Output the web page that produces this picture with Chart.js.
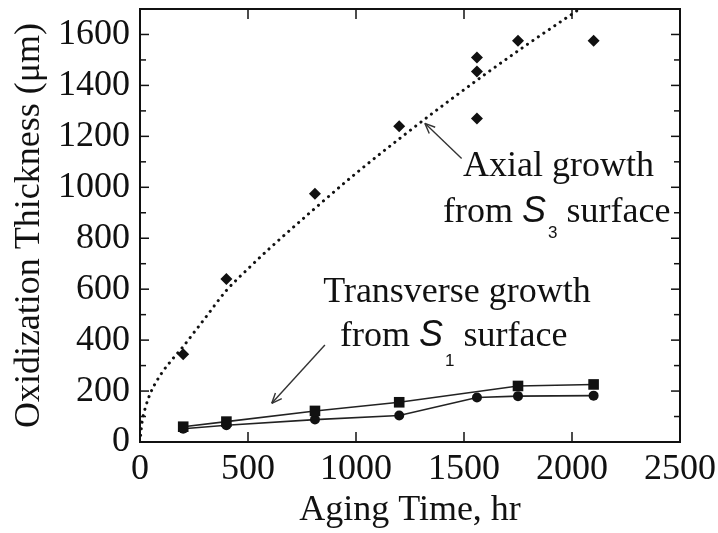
<!DOCTYPE html>
<html>
<head>
<meta charset="utf-8">
<script src="https://cdn.jsdelivr.net/npm/chart.js@4.4.1/dist/chart.umd.min.js"></script>
<style>
  html, body { margin: 0; padding: 0; background: #fff; }
  .chart-container { width: 718px; height: 533px; position: relative; }
</style>
</head>
<body>
<div class="chart-container"><canvas id="chart"></canvas></div>
<script>
// aging time (hr) vs oxide thickness (um)
const axialTime = [200, 400, 810, 1200, 1560, 1560, 1560, 1750, 2100]
const axialThickness = [345, 640, 975, 1240, 1270, 1455, 1510, 1575, 1575]

// fitted axial growth curve
const fitTime = [0, 5, 10, 25, 50, 100, 150, 200, 250, 300, 400, 500, 600, 800, 1000, 1200, 1400, 1600, 1800, 2035]
const fitThickness = [0, 45, 80, 135, 195, 270, 325, 375, 430, 485, 595, 680, 760, 910, 1055, 1190, 1320, 1445, 1565, 1700]

// transverse growth, square markers
const transTimeA = [200, 400, 810, 1200, 1750, 2100]
const transThickA = [60, 80, 122, 156, 220, 226]
// transverse growth, circle markers
const transTimeB = [200, 400, 810, 1200, 1560, 1750, 2100]
const transThickB = [52, 66, 88, 104, 175, 180, 182]

const xTicks = [0, 500, 1000, 1500, 2000, 2500]
const yTicks = [0, 200, 400, 600, 800, 1000, 1200, 1400, 1600]
const yMinorTicks = [100, 300, 500, 700, 900, 1100, 1300, 1500]

const serif = "'Liberation Serif', 'Times New Roman', serif"
const sans = "'Liberation Sans', Arial, sans-serif"
const ink = "#111"

const pts = (xs, ys) => xs.map((x, i) => ({ x: x, y: ys[i] }))

// text labels with an S-subscript, anchored in data units
const notes = [
  { t: 1495, v: 1044, parts: [["Axial growth"]] },
  { t: 1403, v: 865, parts: [["from "], ["S", "s"], ["3", "sub"], [" surface"]], subDrop: 16 },
  { t: 848, v: 551, parts: [["Transverse growth"]] },
  { t: 926, v: 375, parts: [["from "], ["S", "s"], ["1", "sub"], [" surface"]], subDrop: 20 }
]
const arrows = [
  { from: [1489, 1113], to: [1319, 1251] },
  { from: [856, 381], to: [610, 152] }
]

const framePlugin = {
  id: "frame",
  afterDatasetsDraw(chart) {
    const ctx = chart.ctx
    const a = chart.chartArea
    const x = chart.scales.x
    const y = chart.scales.y
    const seg = (x0, y0, x1, y1) => { ctx.beginPath(); ctx.moveTo(x0, y0); ctx.lineTo(x1, y1); ctx.stroke() }
    ctx.save()
    ctx.strokeStyle = ink
    ctx.lineWidth = 2
    ctx.strokeRect(a.left, a.top, a.right - a.left, a.bottom - a.top)
    ctx.lineWidth = 1.5
    yTicks.forEach(v => {
      const py = y.getPixelForValue(v)
      seg(a.left, py, a.left + 9, py)
      seg(a.right, py, a.right - 9, py)
    })
    yMinorTicks.forEach(v => {
      const py = y.getPixelForValue(v)
      seg(a.left, py, a.left + 6, py)
      seg(a.right, py, a.right - 6, py)
    })
    xTicks.slice(1, -1).forEach(v => {
      const px = x.getPixelForValue(v)
      seg(px, a.bottom, px, a.bottom - 10)
      seg(px, a.top, px, a.top + 10)
    })

    // arrows
    ctx.strokeStyle = "#333"
    ctx.lineWidth = 1.4
    arrows.forEach(ar => {
      const x0 = x.getPixelForValue(ar.from[0]), y0 = y.getPixelForValue(ar.from[1])
      const x1 = x.getPixelForValue(ar.to[0]), y1 = y.getPixelForValue(ar.to[1])
      seg(x0, y0, x1, y1)
      const ang = Math.atan2(y0 - y1, x0 - x1)
      const len = 11
      seg(x1, y1, x1 + len * Math.cos(ang + 0.4), y1 + len * Math.sin(ang + 0.4))
      seg(x1, y1, x1 + len * Math.cos(ang - 0.4), y1 + len * Math.sin(ang - 0.4))
    })

    // labels
    ctx.fillStyle = ink
    ctx.textBaseline = "alphabetic"
    ctx.textAlign = "left"
    notes.forEach(n => {
      let px = x.getPixelForValue(n.t)
      const py = y.getPixelForValue(n.v)
      n.parts.forEach(p => {
        const kind = p[1]
        if (kind === "s") ctx.font = "italic 36px " + sans
        else if (kind === "sub") ctx.font = "17px " + sans
        else ctx.font = "36px " + serif
        const dy = kind === "sub" ? n.subDrop : 0
        ctx.fillText(p[0], px, py + dy)
        px += ctx.measureText(p[0]).width + (kind === "s" ? 2 : 0)
      })
    })
    ctx.restore()
  }
}

const chartEl = document.getElementById("chart")
const chart = new Chart(chartEl, {
  type: "scatter",
  data: {
    datasets: [
      {
        data: pts(axialTime, axialThickness),
        pointStyle: "rectRot",
        pointRadius: 6,
        backgroundColor: ink,
        borderColor: ink,
        borderWidth: 0
      },
      {
        type: "line",
        data: pts(transTimeA, transThickA),
        pointStyle: "rect",
        pointRadius: 7.5,
        backgroundColor: ink,
        borderColor: "#222",
        borderWidth: 1.6,
        pointBorderWidth: 0
      },
      {
        type: "line",
        data: pts(transTimeB, transThickB),
        pointStyle: "circle",
        pointRadius: 5,
        backgroundColor: ink,
        borderColor: "#222",
        borderWidth: 1.6,
        pointBorderWidth: 0
      },
      {
        type: "line",
        data: pts(fitTime, fitThickness),
        pointRadius: 0,
        borderColor: ink,
        borderWidth: 3,
        borderDash: [0.1, 6.5],
        borderCapStyle: "round",
        cubicInterpolationMode: "monotone",
        fill: false
      }
    ]
  },
  options: {
    responsive: true,
    maintainAspectRatio: false,
    animation: false,
    layout: { padding: { left: 8, top: 9, right: 38, bottom: 1 } },
    plugins: { legend: { display: false }, tooltip: { enabled: false } },
    scales: {
      x: {
        type: "linear",
        min: 0,
        max: 2500,
        afterBuildTicks: s => { s.ticks = xTicks.map(v => ({ value: v })) },
        afterFit: s => { s.height = 90; s.paddingLeft = 0; s.paddingRight = 0 },
        grid: { display: false, drawTicks: false },
        border: { display: false },
        ticks: { font: { family: serif, size: 36 }, color: ink, padding: 6, maxRotation: 0, autoSkip: false, callback: v => String(v) },
        title: { display: true, text: "Aging Time, hr", font: { family: serif, size: 36 }, color: ink, padding: 0 }
      },
      y: {
        type: "linear",
        min: 0,
        max: 1700,
        afterBuildTicks: s => { s.ticks = yTicks.map(v => ({ value: v })) },
        afterFit: s => { s.width = 132; s.paddingTop = 0; s.paddingBottom = 0 },
        grid: { display: false, drawTicks: false },
        border: { display: false },
        ticks: { font: { family: serif, size: 36 }, color: ink, padding: 10, autoSkip: false, callback: v => String(v) },
        title: { display: true, text: "Oxidization Thickness (μm)", font: { family: serif, size: 36 }, color: ink, padding: 0 }
      }
    }
  },
  plugins: [framePlugin]
})
</script>
</body>
</html>
